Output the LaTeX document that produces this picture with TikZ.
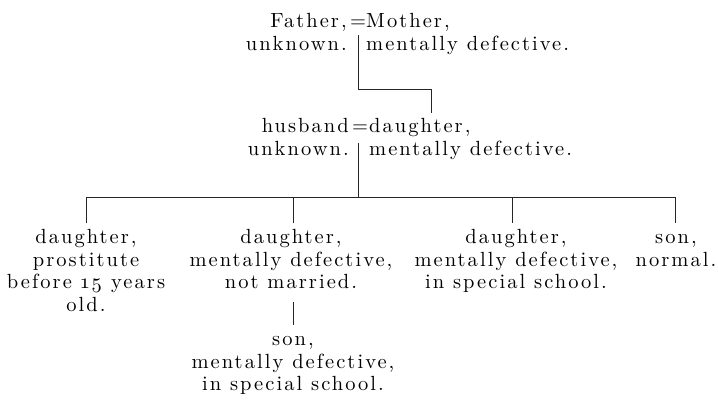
\documentclass[tikz,border=0pt]{standalone}
\usepackage{fontspec}
\setmainfont{lmroman10-regular.otf}[LetterSpace=10]
\begin{document}
\begin{tikzpicture}[x=1pt,y=-1pt,
  txt/.style={inner sep=0pt,font=\fontsize{20.5}{22.5}\selectfont},
  kid/.style={txt,align=center,anchor=base},
  lin/.style={line width=0.7pt,draw=black!85}]
\useasboundingbox (0,0) rectangle (718,403);
% first generation (base anchor = baseline of last line)
\node[txt,align=right,anchor=base east] (father) at (347,50.5) {Father,\\unknown.};
\node[txt,anchor=base] (eq1) at (358,28) {=};
\node[txt,align=left,anchor=base west] (mother) at (366,50.5) {Mother,\\mentally defective.};
% second generation
\node[txt,align=right,anchor=base east] (husband) at (349,155.5) {husband\\unknown.};
\node[txt,anchor=base] (eq2) at (360,133) {=};
\node[txt,align=left,anchor=base west] (daughter) at (369,155.5) {daughter,\\mentally defective.};
% children
\node[kid] (c1) at (86,311.5) {daughter,\\prostitute\\before \oldstylenums{15} years\\old.};
\node[kid] (c2) at (291,289) {daughter,\\mentally defective,\\not married.};
\node[kid] (c3) at (516,289) {daughter,\\mentally defective,\\in special school.};
\node[kid] (c4) at (676,266.5) {son,\\normal.};
\node[kid] (gs) at (293,391) {son,\\mentally defective,\\in special school.};
% connectors
\coordinate (a0) at (358,35);
\coordinate (a1) at (431,89);
\coordinate (a2) at (431,113);
\draw[lin] (a0) |- (a1) -- (a2);
\coordinate (b0) at (358,143);
\coordinate (b1) at (358,197);
\draw[lin] (b0) -- (b1);
\coordinate (h1) at (86,197);
\coordinate (h2) at (293,197);
\coordinate (h3) at (512,197);
\coordinate (h4) at (675,197);
\draw[lin] (h1) -- (h4);
\draw[lin] (h1) -- ++(0,26);
\draw[lin] (h2) -- ++(0,26);
\draw[lin] (h3) -- ++(0,26);
\draw[lin] (h4) -- ++(0,26);
\coordinate (g0) at (293,302);
\coordinate (g1) at (293,325);
\draw[lin] (g0) -- (g1);
\end{tikzpicture}
\end{document}
